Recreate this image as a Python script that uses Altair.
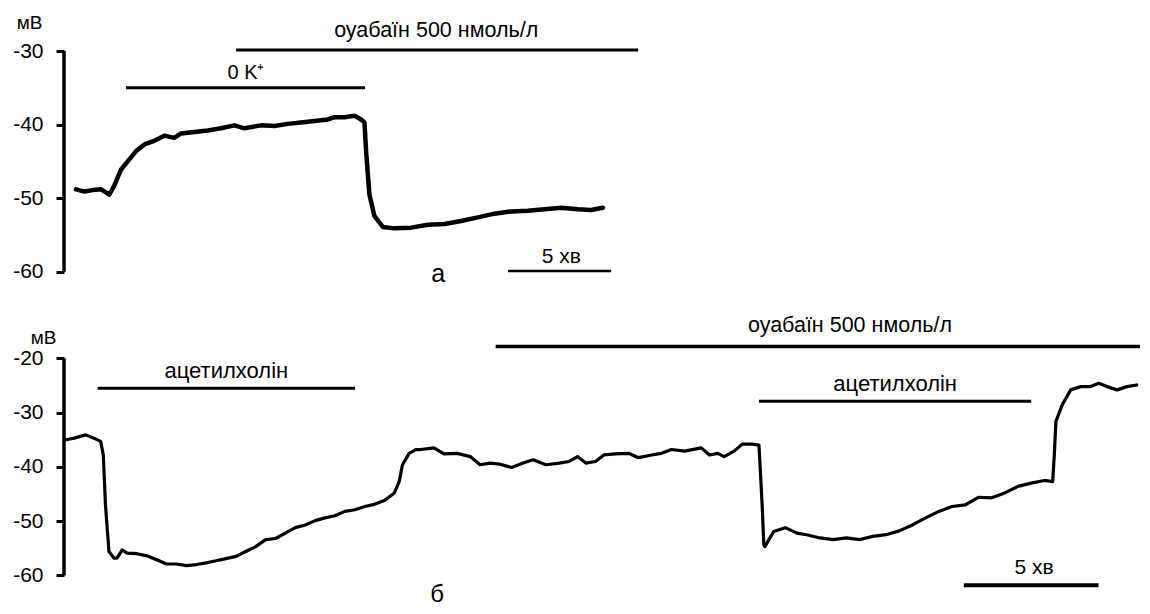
import altair as alt
import pandas as pd

FONT = "Liberation Sans"

# ---------------- panel а (top) ----------------
a_time = [0.58, 0.99, 1.39, 1.80, 2.20, 2.44, 2.77, 3.09, 3.50, 3.90, 4.38, 4.87,
          5.35, 5.68, 6.33, 6.98, 7.62, 8.27, 8.75, 9.56, 10.21, 10.86, 11.50, 12.15,
          12.80, 13.12, 13.61, 14.09, 14.42, 14.58, 14.66, 14.82, 15.06, 15.47, 16.03,
          16.84, 17.66, 18.46, 19.27, 20.08, 20.89, 21.70, 22.51, 23.32, 24.13, 24.94,
          25.58, 26.15]
a_mv = [-48.8, -49.1, -48.9, -48.8, -49.5, -48.3, -46.1, -45.0, -43.6, -42.7, -42.2, -41.5,
        -41.8, -41.2, -41.0, -40.8, -40.5, -40.1, -40.5, -40.1, -40.2, -39.9, -39.7, -39.5,
        -39.3, -39.0, -39.0, -38.8, -39.3, -39.7, -43.6, -49.5, -52.4, -53.9, -54.1,
        -54.0, -53.6, -53.5, -53.1, -52.6, -52.1, -51.8, -51.7, -51.5, -51.3, -51.5,
        -51.6, -51.3]

a_bar_start = [8.35, 3.01, 21.55]
a_bar_end = [27.86, 14.61, 26.55]
a_bar_level = [-29.86, -35.0, -59.9]
a_bar_width = [3, 3, 2.5]

a_lab_text = ["оуабаїн 500 нмоль/л", "0 K⁺", "5 хв", "а"]
a_lab_t = [18.06, 8.83, 24.13, 18.16]
a_lab_v = [-27.3, -33.0, -58.0, -60.3]
a_lab_size = [21.5, 20, 21, 25]

a_ticks = [-30, -40, -50, -60]

# ---------------- panel б (bottom) ----------------
b_time = [0.07, 0.38, 0.81, 1.11, 1.36, 1.46, 1.54, 1.67, 1.85, 1.97, 2.16, 2.34,
          2.71, 3.08, 3.44, 3.81, 4.18, 4.55, 4.92, 5.28, 5.65, 6.02, 6.39, 6.75,
          7.12, 7.49, 7.86, 8.22, 8.59, 8.96, 9.33, 9.69, 10.06, 10.43, 10.80, 11.17,
          11.53, 11.90, 12.27, 12.45, 12.57, 12.82, 13.06, 13.25, 13.74, 14.11, 14.60,
          15.09, 15.45, 15.82, 16.19, 16.62, 17.05, 17.42, 17.90, 18.39, 18.76, 19.07,
          19.38, 19.74, 20.05, 20.48, 20.97, 21.33, 21.83, 22.19, 22.56, 23.05, 23.67,
          23.97, 24.28, 24.52, 24.89, 25.19, 25.56, 25.81, 25.93, 25.99, 26.03, 26.18,
          26.36, 26.79, 27.22, 27.58, 28.08, 28.57, 29.06, 29.55, 30.04, 30.53, 31.02,
          31.51, 32.00, 32.49, 32.98, 33.47, 33.96, 34.45, 34.94, 35.43, 35.92, 36.41,
          36.72, 36.78, 36.84, 37.08, 37.39, 37.76, 38.13, 38.43, 38.74, 39.11, 39.48,
          39.84]
b_mv = [-35.0, -34.7, -34.1, -34.7, -35.3, -37.8, -47.0, -55.6, -56.8, -56.8, -55.3, -55.9,
        -56.0, -56.4, -57.1, -57.9, -57.9, -58.2, -58.0, -57.7, -57.3, -56.9, -56.5, -55.6,
        -54.7, -53.4, -53.2, -52.2, -51.2, -50.7, -49.9, -49.4, -49.0, -48.2, -47.9, -47.3,
        -46.9, -46.2, -44.8, -42.7, -39.6, -37.5, -36.8, -36.8, -36.5, -37.6, -37.5,
        -38.1, -39.6, -39.3, -39.5, -40.1, -39.3, -38.7, -39.6, -39.3, -39.0, -38.1,
        -39.3, -39.0, -37.8, -37.6, -37.5, -38.3, -37.8, -37.5, -36.8, -37.1, -36.5,
        -37.8, -37.5, -38.1, -37.1, -35.8, -35.8, -36.0, -47.0, -54.3, -54.7, -53.4,
        -51.9, -51.2, -52.2, -52.5, -53.1, -53.4, -53.1, -53.4, -52.8, -52.5, -51.8,
        -50.7, -49.4, -48.2, -47.3, -47.0, -45.6, -45.7, -44.8, -43.6, -43.0, -42.5,
        -42.7, -37.8, -31.6, -28.5, -25.8, -25.2, -25.2, -24.6, -25.2, -25.8, -25.2,
        -24.9]

b_bar_start = [16.03, 1.25, 25.81, 33.42]
b_bar_end = [39.96, 10.81, 35.92, 38.42]
b_bar_level = [-17.8, -25.5, -27.9, -61.8]
b_bar_width = [3.5, 3, 3, 4]

b_lab_text = ["оуабаїн 500 нмоль/л", "ацетилхолін", "ацетилхолін", "5 хв", "б"]
b_lab_t = [29.19, 6.03, 30.87, 36.03, 13.86]
b_lab_v = [-14.1, -22.4, -24.8, -58.7, -63.7]
b_lab_size = [21.5, 22, 22, 21, 24]

b_ticks = [-20, -30, -40, -50, -60]

assert len(a_time) == len(a_mv), (len(a_time), len(a_mv))
assert len(b_time) == len(b_mv), (len(b_time), len(b_mv))


def panel(t, v, bs, be, bl, bw, lt, lx, lv, ls, ticks, xdom, ydom, width, height,
          trace_w, title_x, title_y):
    xs = alt.Scale(domain=xdom, nice=False, zero=False)
    ys = alt.Scale(domain=ydom, nice=False, zero=False)
    yaxis = alt.Axis(values=ticks, domain=False, grid=False, ticks=True, tickSize=8,
                     tickWidth=3, tickColor="black", labelFont=FONT, labelFontSize=21,
                     labelColor="black", labelPadding=13,
                     labelExpr="'-' + abs(datum.value)",
                     title="мВ", titleAngle=0,
                     titleFont=FONT, titleFontSize=19, titleFontWeight="normal",
                     titleColor="black", titleAlign="center",
                     titleBaseline="alphabetic", titleX=title_x, titleY=title_y)
    X = alt.X("t:Q", scale=xs, axis=None)
    Y = alt.Y("v:Q", scale=ys, axis=yaxis)

    trace = alt.Chart(pd.DataFrame({"t": t, "v": v})).mark_line(
        color="black", strokeWidth=trace_w, strokeJoin="round", strokeCap="round"
    ).encode(x=X, y=Y, order="t:Q")

    axis_line = alt.Chart(pd.DataFrame({"t": [xdom[0]], "v": [min(ticks)],
                                        "v2": [max(ticks)]})).mark_rule(
        color="black", strokeWidth=3.5
    ).encode(x=X, y=Y, y2="v2:Q")

    bars = alt.Chart(pd.DataFrame({"t": bs, "t2": be, "v": bl, "w": bw})).mark_rule(
        color="black"
    ).encode(x=X, x2="t2:Q", y=Y, strokeWidth=alt.StrokeWidth("w:Q", scale=None))

    labels = alt.Chart(pd.DataFrame({"t": lx, "v": lv, "txt": lt, "s": ls})).mark_text(
        font=FONT, color="black", align="center", baseline="middle"
    ).encode(x=X, y=Y, text="txt:N", size=alt.Size("s:Q", scale=None))

    return alt.layer(trace, axis_line, bars, labels).properties(width=width, height=height)


top = panel(a_time, a_mv, a_bar_start, a_bar_end, a_bar_level, a_bar_width,
            a_lab_text, a_lab_t, a_lab_v, a_lab_size, a_ticks,
            [0, 28], [-62, -26.6], 577, 260.5, 4.5, -35, 2)

bottom = panel(b_time, b_mv, b_bar_start, b_bar_end, b_bar_level, b_bar_width,
               b_lab_text, b_lab_t, b_lab_v, b_lab_size, b_ticks,
               [0, 40], [-65.9, -12], 1077, 292.4, 3.2, -21, 28)

chart = alt.vconcat(top, bottom, spacing=28).properties(
    padding={"left": 4, "top": 5, "right": 0, "bottom": 0},
    background="white",
).configure_view(stroke=None)

chart.save("out.html", embed_options={"renderer": "svg", "actions": False})
